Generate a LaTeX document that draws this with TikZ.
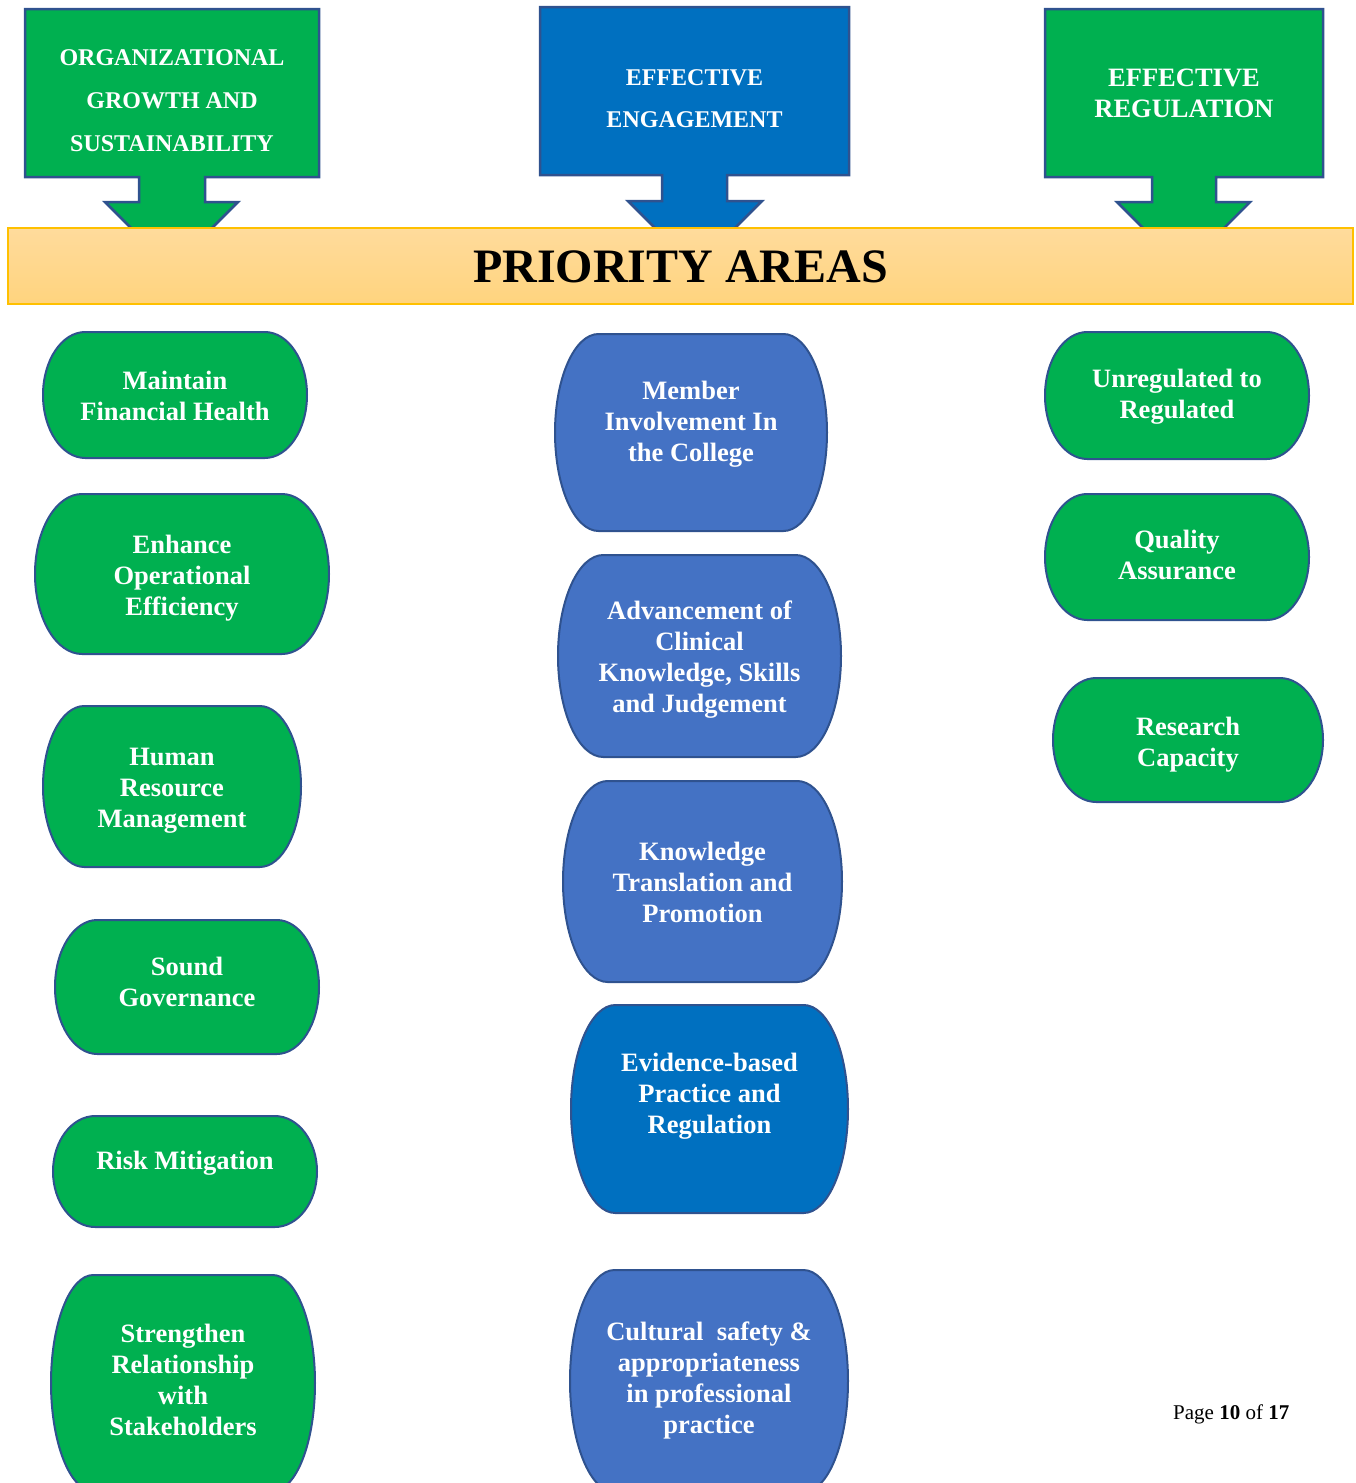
\documentclass[tikz,border=0pt]{standalone}
\usepackage{fontspec}
\setmainfont{Liberation Serif}

\definecolor{goalgreen}{HTML}{00B050}
\definecolor{goalblue}{HTML}{0070C0}
\definecolor{areablue}{HTML}{4472C4}
\definecolor{edgeblue}{HTML}{2F528F}
\definecolor{bartop}{HTML}{FFDB9C}
\definecolor{barbottom}{HTML}{FFD47E}
\definecolor{baredge}{HTML}{FFC000}

% terminator box: name, centre x, centre y, width, height, fill, text y, text
\newcommand{\areabox}[8]{%
  \filldraw[areashape, fill=#6]
    ({#2-#4/2+0.16*#4},{#3+#5/2}) -- ({#2+#4/2-0.16*#4},{#3+#5/2})
    arc[start angle=90, end angle=-90, x radius={0.16*#4}, y radius={#5/2}]
    -- ({#2-#4/2+0.16*#4},{#3-#5/2})
    arc[start angle=270, end angle=90, x radius={0.16*#4}, y radius={#5/2}]
    -- cycle;
  \node[areatext] (#1) at (#2,#7) {#8};
}

\begin{document}
\begin{tikzpicture}[x=1pt,y=1pt]
		\useasboundingbox (0,0) rectangle (1356,-1483);
		\clip (0,0) rectangle (1356,-1483);
		\begin{scope}
		
		\tikzstyle{goalshape}=[draw=edgeblue,
		line width=2.5pt,
		line join=miter
		]
		\tikzstyle{goaltext}=[text=white,
		align=center,
		inner sep=0pt,
		font=\bfseries
		]
		\tikzstyle{areashape}=[draw=edgeblue,
		line width=2pt
		]
		\tikzstyle{areatext}=[text=white,
		align=center,
		inner sep=0pt,
		text depth=0pt,
		font=\fontsize{26.5}{31}\selectfont\bfseries
		]
		
		% goal arrows
		\filldraw[goalshape, fill=goalgreen] (25,-9) -- (319,-9) -- (319,-177) -- (205,-177) -- (205,-202) -- (238,-202)
		-- (171.5,-268.5) -- (105,-202) -- (139,-202) -- (139,-177) -- (25,-177) -- cycle;
		\filldraw[goalshape, fill=goalblue] (540,-7) -- (849,-7) -- (849,-175) -- (727,-175) -- (727,-201) -- (762,-201)
		-- (695,-268) -- (628,-201) -- (662,-201) -- (662,-175) -- (540,-175) -- cycle;
		\filldraw[goalshape, fill=goalgreen] (1045,-9) -- (1323,-9) -- (1323,-177) -- (1216,-177) -- (1216,-202) -- (1250,-202)
		-- (1183.5,-268.5) -- (1117,-202) -- (1152,-202) -- (1152,-177) -- (1045,-177) -- cycle;
		
		\node[goaltext, font=\fontsize{24}{43}\selectfont\bfseries] (orggoal) at (172,-101) {ORGANIZATIONAL\\GROWTH AND\\SUSTAINABILITY};
		\node[goaltext, font=\fontsize{24}{42}\selectfont\bfseries] (enggoal) at (694.5,-99) {EFFECTIVE\\ENGAGEMENT};
		\node[goaltext, font=\fontsize{26.5}{31}\selectfont\bfseries] (reggoal) at (1184,-93.5) {EFFECTIVE\\REGULATION};
		
		% priority bar
		\draw[top color=bartop, bottom color=barbottom, draw=baredge, line width=1.5pt] (8,-228) rectangle (1353,-304);
		\node[font=\fontsize{48}{56}\selectfont\bfseries, inner sep=0pt] (prio) at (680.5,-266.5) {PRIORITY AREAS};
		
		% left column
		\areabox{maint}{175}{-395}{264}{126}{goalgreen}{-396}{Maintain\\Financial Health}
		\areabox{enh}{182}{-574}{294}{160}{goalgreen}{-575}{Enhance\\Operational\\Efficiency}
		\areabox{hrm}{172}{-786.5}{258}{161}{goalgreen}{-787.5}{Human\\Resource\\Management}
		\areabox{gov}{187}{-987}{264}{134}{goalgreen}{-982}{Sound\\Governance}
		\areabox{risk}{185}{-1171.5}{264}{111}{goalgreen}{-1160}{Risk Mitigation}
		\areabox{stake}{183}{-1383}{264}{216}{goalgreen}{-1380}{Strengthen\\Relationship\\with\\Stakeholders}
		
		% middle column
		\areabox{memb}{691}{-432.5}{272}{197}{areablue}{-421}{Member\\Involvement In\\the College}
		\areabox{adv}{699.5}{-656}{283}{202}{areablue}{-657}{Advancement of\\Clinical\\Knowledge, Skills\\and Judgement}
		\areabox{ktp}{702.5}{-881.5}{279}{201}{areablue}{-882.5}{Knowledge\\Translation and\\Promotion}
		\areabox{ebp}{709.5}{-1109}{277}{208}{goalblue}{-1093.5}{Evidence-based\\Practice and\\Regulation}
		\areabox{cult}{709}{-1381}{278}{222}{areablue}{-1378}{Cultural\ \ safety \&\\appropriateness\\in professional\\practice}
		
		% right column
		\areabox{unreg}{1177}{-395.5}{264}{127}{goalgreen}{-393.5}{Unregulated to\\Regulated}
		\areabox{qa}{1177}{-557}{264}{126}{goalgreen}{-554.5}{Quality\\Assurance}
		\areabox{res}{1188}{-740}{270}{124}{goalgreen}{-741.5}{Research\\Capacity}
		
		\node[anchor=base west, inner sep=0pt, font=\fontsize{21}{25}\selectfont] (pagenum) at (1173,-1419) {Page \textbf{10} of \textbf{17}};
		
		\end{scope}
\end{tikzpicture}
\end{document}
